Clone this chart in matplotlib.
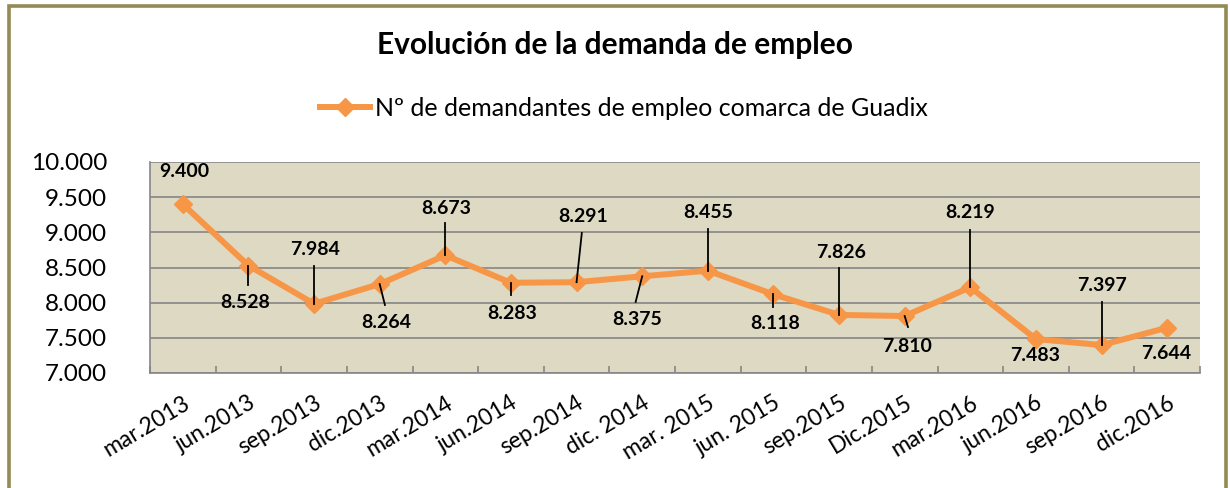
import matplotlib
matplotlib.use("Agg")
import matplotlib.pyplot as plt
from matplotlib.patches import Rectangle
from matplotlib.lines import Line2D

# ---- data ----
categories = ["mar.2013", "jun.2013", "sep.2013", "dic.2013", "mar.2014", "jun.2014",
              "sep.2014", "dic. 2014", "mar. 2015", "jun. 2015", "sep.2015", "Dic.2015",
              "mar.2016", "jun.2016", "sep.2016", "dic.2016"]
demandantes = [9400, 8528, 7984, 8264, 8673, 8283, 8291, 8375, 8455, 8118,
               7826, 7810, 8219, 7483, 7397, 7644]
series_name = "Nº de demandantes de empleo comarca de Guadix"
title = "Evolución de la demanda de empleo"
y_ticks = [7000, 7500, 8000, 8500, 9000, 9500, 10000]

# ---- layout for data labels (label centre offsets, leader line ends) ----
label_dx = [0.03, -0.05, 0.01, 0.10, 0.02, 0.02, 0.10, -0.08, 0.0, 0.02,
            0.03, 0.04, -0.01, -0.01, 0.0, -0.01]
label_y = [9859, 7996, 8750, 7718, 9333, 7853, 9219, 7754, 9276, 7697,
           8707, 7370, 9276, 7242, 8238, 7284]
leader_end = [None, (0.0, 8252), (0.0, 8522), (0.08, 7967), (0.0, 9134),
              (0.0, 8110), (0.08, 8991), (-0.10, 8010), (0.0, 9048),
              (0.0, 7939), (0.0, 8494), (0.05, 7654), (0.0, 9034), None,
              (0.0, 8010), None]

FONT = "Lato"
ORANGE = "#F79646"
GRID = "#868686"

fig = plt.figure(figsize=(12.3, 4.88), dpi=100)
fig.patch.set_facecolor("white")

# outer border
fig.add_artist(Rectangle((9 / 1230, -0.05), (1226 - 9) / 1230, (488 - 6) / 488 + 0.05,
                         transform=fig.transFigure, fill=False,
                         edgecolor="#948A54", linewidth=2.6, clip_on=False))

ax = fig.add_axes([150 / 1230, (488 - 373) / 488, 1050 / 1230, 211 / 488])
ax.set_facecolor("#DDD9C3")

x = list(range(len(categories)))
ax.plot(x, demandantes, color=ORANGE, linewidth=4.3, marker="D",
        markersize=9.5, markerfacecolor=ORANGE, markeredgecolor=ORANGE,
        zorder=3, solid_joinstyle="miter")

ax.set_xlim(-0.5, len(categories) - 0.5)
ax.set_ylim(y_ticks[0], y_ticks[-1])
ax.set_yticks(y_ticks)
ax.set_yticklabels([f"{v:,}".replace(",", ".") for v in y_ticks],
                   fontfamily=FONT, fontsize=17.5)
ax.tick_params(axis="y", length=0, pad=31)
ax.yaxis.grid(True, color=GRID, linewidth=1.2)
ax.set_axisbelow(True)

ax.set_xticks(x)
ax.set_xticklabels(categories, fontfamily=FONT, fontsize=16.5,
                   rotation=31, ha="right", rotation_mode="anchor")
ax.tick_params(axis="x", length=0, pad=14)
ax.set_xticks([i - 0.5 for i in range(len(categories) + 1)], minor=True)
ax.tick_params(axis="x", which="minor", direction="in", length=5,
               color=GRID, width=1.2)

for s in ["top", "right"]:
    ax.spines[s].set_visible(False)
for s in ["left", "bottom"]:
    ax.spines[s].set_color(GRID)
    ax.spines[s].set_linewidth(1.2)

# data labels + leader lines
for i, v in enumerate(demandantes):
    ax.text(i + label_dx[i], label_y[i], f"{v:,}".replace(",", "."),
            ha="center", va="center", fontfamily=FONT, fontweight="bold",
            fontsize=14, color="black", zorder=5)
    le = leader_end[i]
    if le is not None:
        ax.plot([i, i + le[0]], [v, le[1]], color="black", linewidth=1.3, zorder=4)

# title and legend
fig.text(0.5, 1 - 45 / 488, title, ha="center", va="center",
         fontfamily=FONT, fontweight="bold", fontsize=21.5)
handle = Line2D([], [], color=ORANGE, linewidth=4.3, marker="D",
                markersize=9.5, markerfacecolor=ORANGE, markeredgecolor=ORANGE)
fig.legend([handle], [series_name], loc="center", bbox_to_anchor=(624 / 1230, 1 - 108 / 488),
           frameon=False, prop={"family": FONT, "size": 18},
           handlelength=2.0, handletextpad=0.2, borderpad=0)

fig.savefig("out.png", dpi=100, facecolor="white")
